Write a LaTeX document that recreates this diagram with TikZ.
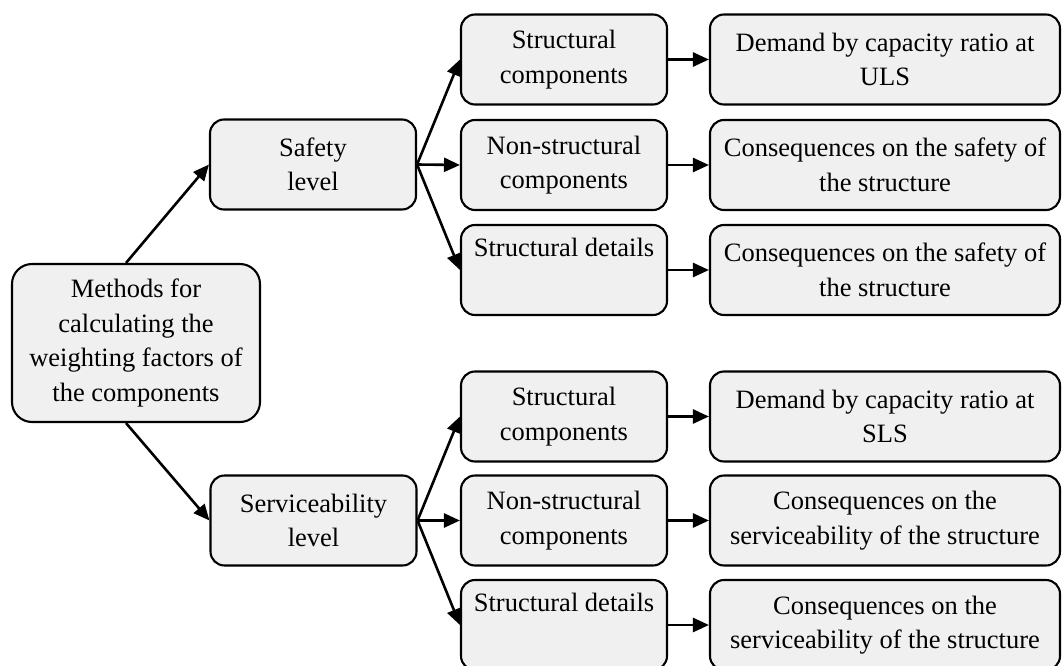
\documentclass[tikz,border=0pt]{standalone}
\usepackage{fontspec}
\setmainfont{Liberation Serif}
\usetikzlibrary{arrows.meta}
\begin{document}
\begin{tikzpicture}[x=1pt,y=-1pt,
  box/.style={draw=black, line width=2.1pt, fill=boxgray, rounded corners=14pt,
    align=center, inner sep=0pt, font=\fontsize{26.5}{34.5}\selectfont},
  colC/.style={box, minimum width=206pt, minimum height=90pt},
  colD/.style={box, minimum width=350pt, minimum height=90pt},
  lvl/.style={box, minimum width=206pt, minimum height=90pt},
  arr/.style={line width=2.6pt, -{Triangle[length=16pt,width=14pt]}}]
\definecolor{boxgray}{HTML}{F0F0F0}
\useasboundingbox (0,0) rectangle (1062,666);
% main
\node[box, rounded corners=20pt, minimum width=248pt, minimum height=158pt] (main) at (136,343)
  {Methods for\\calculating the\\weighting factors of\\the components};
% levels
\node[lvl] (safe) at (313,164.5) {Safety\\level};
\node[lvl] (serv) at (313.5,520.5) {Serviceability\\level};
% column 3 top
\node[colC] (a1) at (564,59.5) {Structural\\components};
\node[colC] (a2) at (564,165) {Non-structural\\components};
\node[colC] (a3) at (564,270) {Structural details\\\strut};
% column 3 bottom
\node[colC] (b1) at (564,416.5) {Structural\\components};
\node[colC] (b2) at (564,520.5) {Non-structural\\components};
\node[colC] (b3) at (564,625) {Structural details\\\strut};
% column 4 top
\node[colD] (c1) at (885,59.5) {Demand by capacity ratio at\\ULS};
\node[colD] (c2) at (885,165) {Consequences on the safety of\\the structure};
\node[colD] (c3) at (885,270) {Consequences on the safety of\\the structure};
% column 4 bottom
\node[colD] (d1) at (885,416.5) {Demand by capacity ratio at\\SLS};
\node[colD] (d2) at (885,520.5) {Consequences on the\\serviceability of the structure};
\node[colD] (d3) at (885,625) {Consequences on the\\serviceability of the structure};
% arrows
\draw[arr] ([xshift=-10pt]main.north) -- (safe.west);
\draw[arr] ([xshift=-10pt]main.south) -- (serv.west);
\foreach \s/\t in {safe/a1,safe/a2,safe/a3,serv/b1,serv/b2,serv/b3,a1/c1,a2/c2,a3/c3,b1/d1,b2/d2,b3/d3}
  \draw[arr] (\s.east) -- (\t.west);
\end{tikzpicture}
\end{document}
